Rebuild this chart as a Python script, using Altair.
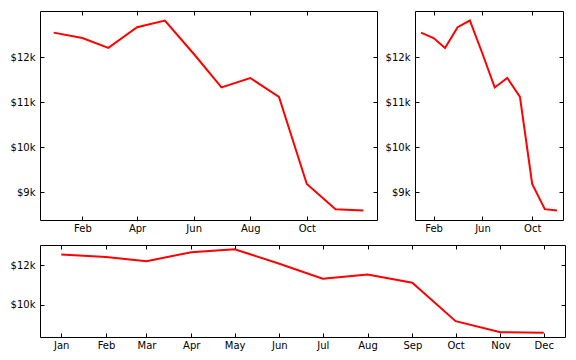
import altair as alt
import pandas as pd

# ---- data ----
months = ["2015-01-01", "2015-02-01", "2015-03-01", "2015-04-01", "2015-05-01", "2015-06-01",
          "2015-07-01", "2015-08-01", "2015-09-01", "2015-10-01", "2015-11-01", "2015-12-01"]
values = [12550, 12430, 12210, 12670, 12820, 12080, 11330, 11540, 11120, 9180, 8620, 8590]

ticks_top_left = ["2015-02-01", "2015-04-01", "2015-06-01", "2015-08-01", "2015-10-01"]
ticks_top_right = ["2015-02-01", "2015-06-01", "2015-10-01"]
ticks_bottom = months
yticks_top = [9000, 10000, 11000, 12000]
yticks_bottom = [10000, 12000]

df = pd.DataFrame({"date": months, "value": values})


def ms(s):
    return int(pd.Timestamp(s, tz="UTC").value // 10**6)


# margins around the data (about half a month in x, 5% in y)
t0, t1 = ms(months[0]), ms(months[-1])
pad_t = 0.044 * (t1 - t0)
xdomain = [t0 - pad_t, t1 + pad_t]
vmin, vmax = min(values), max(values)
pad_v = 0.05 * (vmax - vmin)
ydomain = [vmin - pad_v, vmax + pad_v]

FONT = "DejaVu Sans"
TICK = 4
common = dict(domain=False, grid=False, tickSize=TICK, offset=-TICK, tickColor="black",
              tickWidth=1, labelFont=FONT, labelFontSize=10, labelColor="black",
              labelOverlap=False, title=None)


def panel(w, h, xticks, yticks):
    xscale = alt.Scale(type="utc", domain=xdomain, nice=False)
    yscale = alt.Scale(domain=ydomain, nice=False, zero=False)
    xv = [ms(t) for t in xticks]
    base = alt.Chart(df)
    line = base.mark_line(color="#ff0000", strokeWidth=2).encode(
        x=alt.X("date:T", scale=xscale,
                axis=alt.Axis(orient="bottom", values=xv, format="%b", labelPadding=3, **common)),
        y=alt.Y("value:Q", scale=yscale,
                axis=alt.Axis(orient="left", values=yticks, labelPadding=5,
                              labelExpr="'$' + format(datum.value/1000, 'd') + 'k'", **common)),
    )
    ghost = base.mark_line(opacity=0).encode(
        x=alt.X("date:T", scale=xscale,
                axis=alt.Axis(orient="top", values=xv, labels=False, **common)),
        y=alt.Y("value:Q", scale=yscale,
                axis=alt.Axis(orient="right", values=yticks, labels=False, **common)),
    )
    return alt.layer(line, ghost).resolve_axis(x="independent", y="independent").properties(
        width=w, height=h)


top = alt.hconcat(
    panel(337, 209, ticks_top_left, yticks_top),
    panel(148, 209, ticks_top_right, yticks_top),
    spacing=6,
)
bottom = panel(525, 92, ticks_bottom, yticks_bottom)

chart = alt.vconcat(top, bottom, spacing=10).properties(
    padding={"left": 1, "top": 2, "right": 0, "bottom": 0},
    background="white",
).configure_view(stroke="black", strokeWidth=1)

chart.save("out.html", embed_options={"renderer": "svg", "actions": False})
